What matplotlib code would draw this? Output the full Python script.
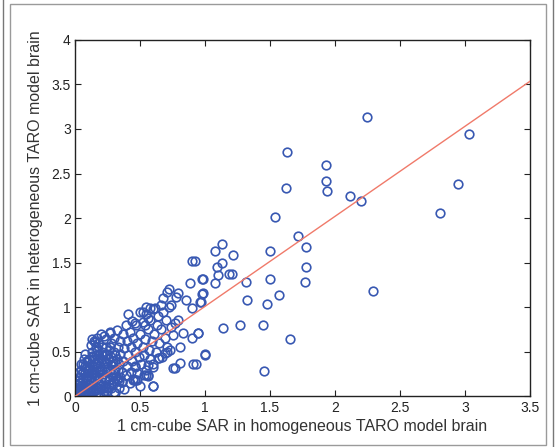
import matplotlib.pyplot as plt
import matplotlib.patches as patches
import numpy as np

plt.rcParams['font.family'] = ['Liberation Sans', 'DejaVu Sans']

# homogeneous (x) vs heterogeneous (y) SAR
sar_hom = [
    # dense core x < 0.1
    0.005, 0.01, 0.015, 0.02, 0.025, 0.03, 0.035, 0.04, 0.045, 0.05, 0.055, 0.06,
    0.065, 0.07, 0.075, 0.08, 0.085, 0.09, 0.095, 0.1, 0.02, 0.03, 0.04, 0.05,
    0.06, 0.07, 0.08, 0.09, 0.1, 0.1, 0.06, 0.01, 0.035, 0.045, 0.085, 0.075,
    # 0.1 - 0.2
    0.11, 0.12, 0.12, 0.13, 0.13, 0.14, 0.14, 0.15, 0.15, 0.15, 0.16, 0.16,
    0.17, 0.17, 0.18, 0.18, 0.18, 0.19, 0.19, 0.2, 0.2, 0.2, 0.11, 0.12,
    0.16, 0.14, 0.17, 0.13,
    # 0.2 - 0.3
    0.21, 0.21, 0.22, 0.22, 0.23, 0.23, 0.24, 0.24, 0.25, 0.25, 0.26, 0.26,
    0.27, 0.27, 0.28, 0.28, 0.28, 0.29, 0.29, 0.3, 0.3, 0.3, 0.26, 0.22, 0.24,
    # 0.3 - 0.45
    0.31, 0.31, 0.32, 0.32, 0.33, 0.33, 0.34, 0.34, 0.35, 0.35, 0.36, 0.36,
    0.37, 0.37, 0.38, 0.38, 0.39, 0.39, 0.4, 0.4, 0.41, 0.42, 0.42, 0.43,
    0.43, 0.44, 0.44, 0.45, 0.45, 0.41,
    # 0.45 - 0.75
    0.46, 0.46, 0.47, 0.48, 0.48, 0.49, 0.5, 0.5, 0.51, 0.52, 0.52, 0.53,
    0.54, 0.55, 0.55, 0.56, 0.57, 0.58, 0.58, 0.59, 0.6, 0.61, 0.62, 0.63,
    0.64, 0.65, 0.66, 0.67, 0.68, 0.69, 0.7, 0.71, 0.72, 0.74, 0.48, 0.5,
    0.53, 0.6, 0.36, 0.45, 0.6, 0.56, 0.46,
    # extra core points (solid-looking blob)
    0.015, 0.025, 0.035, 0.045, 0.055, 0.065, 0.075, 0.085, 0.095, 0.105,
    0.115, 0.125, 0.135, 0.145, 0.155, 0.165, 0.175, 0.185, 0.195, 0.205,
    0.215, 0.225, 0.235, 0.245, 0.255, 0.265, 0.275, 0.285, 0.295, 0.305,
    0.02, 0.04, 0.06, 0.08, 0.1, 0.12, 0.14, 0.16, 0.18, 0.2, 0.22, 0.24,
    0.26, 0.28, 0.3, 0.32, 0.34, 0.11, 0.13, 0.15, 0.17, 0.19, 0.21, 0.23,
    0.25, 0.27, 0.29, 0.31, 0.33, 0.35,
    # outer points
    0.726, 0.790, 0.854, 0.679, 0.659, 0.736, 0.897, 0.577, 0.526, 0.795,
    0.769, 0.833, 0.756, 0.949, 0.897, 0.808, 0.731, 0.692, 1.0, 0.649,
    0.808, 0.769, 0.910, 0.564, 0.603, 0.462, 0.564, 0.597, 0.462, 0.615,
    0.564, 0.538, 0.897, 0.923, 0.885, 0.974, 0.46, 0.55, 0.705, 0.78,
    0.55, 0.756, 0.705, 0.64, 0.27, 0.154,
    0.979, 0.964, 0.944, 1.141, 1.269, 1.446, 1.656, 1.003, 0.931, 1.454,
    0.982, 0.982, 0.969, 1.079, 1.128, 1.218, 1.500, 1.131, 1.090, 1.100,
    1.187, 1.205, 1.079, 1.318, 1.500, 1.767, 1.775, 1.775, 1.567, 1.326,
    1.474, 2.290, 1.536, 1.718, 1.623, 1.631, 1.933, 1.933, 1.941, 2.115,
    2.203, 2.244, 3.033, 2.944, 2.808,
]
sar_het = [
    0.005, 0.02, 0.04, 0.01, 0.06, 0.03, 0.09, 0.02, 0.12, 0.05, 0.16, 0.08,
    0.2, 0.03, 0.26, 0.11, 0.32, 0.06, 0.18, 0.14, 0.1, 0.15, 0.22, 0.3,
    0.36, 0.42, 0.48, 0.4, 0.3, 0.05, 0.0, 0.08, 0.27, 0.36, 0.22, 0.15,
    0.02, 0.1, 0.22, 0.35, 0.5, 0.06, 0.16, 0.28, 0.42, 0.62, 0.1, 0.55,
    0.2, 0.36, 0.03, 0.48, 0.6, 0.14, 0.3, 0.4, 0.7, 0.08, 0.42, 0.58,
    0.46, 0.25, 0.66, 0.65,
    0.22, 0.56, 0.02, 0.33, 0.12, 0.46, 0.64, 0.27, 0.06, 0.38, 0.18, 0.52,
    0.72, 0.3, 0.1, 0.44, 0.6, 0.22, 0.36, 0.5, 0.15, 0.66, 0.42, 0.68, 0.56,
    0.3, 0.04, 0.42, 0.74, 0.2, 0.56, 0.1, 0.36, 0.62, 0.48, 0.16, 0.28,
    0.7, 0.4, 0.54, 0.08, 0.24, 0.8, 0.34, 0.62, 0.46, 0.15, 0.72, 0.28,
    0.56, 0.4, 0.85, 0.66, 0.2, 0.92,
    0.34, 0.5, 0.8, 0.6, 0.26, 0.44, 0.95, 0.7, 0.36, 0.55, 0.84, 0.46,
    0.65, 0.3, 0.92, 0.76, 0.52, 0.42, 0.86, 0.62, 0.98, 0.7, 0.5, 0.8,
    0.9, 0.6, 0.76, 0.44, 0.95, 0.66, 0.86, 0.55, 1.0, 0.78, 0.18, 0.12,
    0.24, 0.36, 0.16, 0.18, 0.12, 0.23, 0.19,
    0.07, 0.13, 0.19, 0.25, 0.1, 0.28, 0.34, 0.22, 0.4, 0.26,
    0.33, 0.19, 0.44, 0.31, 0.37, 0.24, 0.41, 0.27, 0.34, 0.46,
    0.25, 0.38, 0.2, 0.31, 0.43, 0.14, 0.35, 0.25, 0.4, 0.21,
    0.02, 0.05, 0.04, 0.06, 0.08, 0.04, 0.05, 0.07, 0.09, 0.12, 0.06, 0.09,
    0.11, 0.14, 0.05, 0.2, 0.17, 0.3, 0.45, 0.21, 0.52, 0.29, 0.5, 0.18,
    0.48, 0.55, 0.27, 0.47, 0.3, 0.22,
    1.200, 1.163, 1.081, 1.100, 1.025, 1.025, 0.987, 0.987, 0.950, 0.857,
    0.827, 0.708, 0.689, 0.708, 0.652, 0.558, 0.521, 0.484, 0.465, 0.428,
    0.372, 0.316, 0.364, 0.353, 0.334, 0.334, 0.241, 0.118, 0.185, 0.987,
    0.876, 0.800, 1.521, 1.521, 1.274, 1.312, 0.82, 1.0, 1.17, 1.12,
    0.24, 0.316, 0.50, 0.43, 0.71, 0.61,
    1.148, 1.055, 0.708, 0.771, 0.801, 0.801, 0.644, 0.472, 0.364, 0.286,
    1.312, 1.156, 1.062, 1.629, 1.708, 1.585, 1.629, 1.498, 1.454, 1.360,
    1.372, 1.372, 1.274, 1.279, 1.312, 1.279, 1.454, 1.678, 1.140, 1.081,
    1.032, 1.181, 2.018, 1.797, 2.343, 2.741, 2.592, 2.417, 2.301, 2.249,
    2.193, 3.133, 2.943, 2.380, 2.063,
]

# linear fit shown as the red line
fit_slope = 1.01
fit_intercept = 0.0

x_ticks = [0, 0.5, 1, 1.5, 2, 2.5, 3, 3.5]
x_tick_labels = ['0', '0.5', '1', '1.5', '2', '2.5', '3', '3.5']
y_ticks = [0, 0.5, 1, 1.5, 2, 2.5, 3, 3.5, 4]
y_tick_labels = ['0', '0.5', '1', '1.5', '2', '2.5', '3', '3.5', '4']

fig = plt.figure(figsize=(5.55, 4.47), dpi=100)
ax = fig.add_axes([0.135, 0.113, 0.82, 0.798])

ax.plot(sar_hom, sar_het, linestyle='none', marker='o', markersize=6.2,
        markerfacecolor='none', markeredgecolor='#3858b2', markeredgewidth=1.2,
        zorder=2)
fit_x = np.array([0, 3.5])
ax.plot(fit_x, fit_slope * fit_x + fit_intercept, color='#f07a6a', linewidth=1.0,
        zorder=3)

ax.set_xlim(0, 3.5)
ax.set_ylim(0, 4)
ax.set_xticks(x_ticks)
ax.set_xticklabels(x_tick_labels)
ax.set_yticks(y_ticks)
ax.set_yticklabels(y_tick_labels)
ax.tick_params(direction='in', top=True, right=True, length=4, width=0.8,
               labelsize=10, pad=3, colors='#222222')
for spine in ax.spines.values():
    spine.set_linewidth(1.0)
    spine.set_color('#222222')

ax.set_xlabel('1 cm-cube SAR in homogeneous TARO model brain', fontsize=11.5,
              color='#333333', labelpad=3)
ax.set_ylabel('1 cm-cube SAR in heterogeneous TARO model brain', fontsize=11.5,
              color='#333333', labelpad=6)

# grey frame around the figure
fig.patches.append(patches.Rectangle((10 / 555, 2 / 447), 536 / 555, 441 / 447,
                                     transform=fig.transFigure, fill=False,
                                     edgecolor='#9a9a9a', linewidth=1.0))
fig.add_artist(plt.Line2D([3 / 555, 3 / 555], [0, 1], transform=fig.transFigure,
                          color='#777777', linewidth=1.0))
fig.add_artist(plt.Line2D([553 / 555, 553 / 555], [0, 1], transform=fig.transFigure,
                          color='#777777', linewidth=1.0))

fig.savefig('out.png', dpi=100)
